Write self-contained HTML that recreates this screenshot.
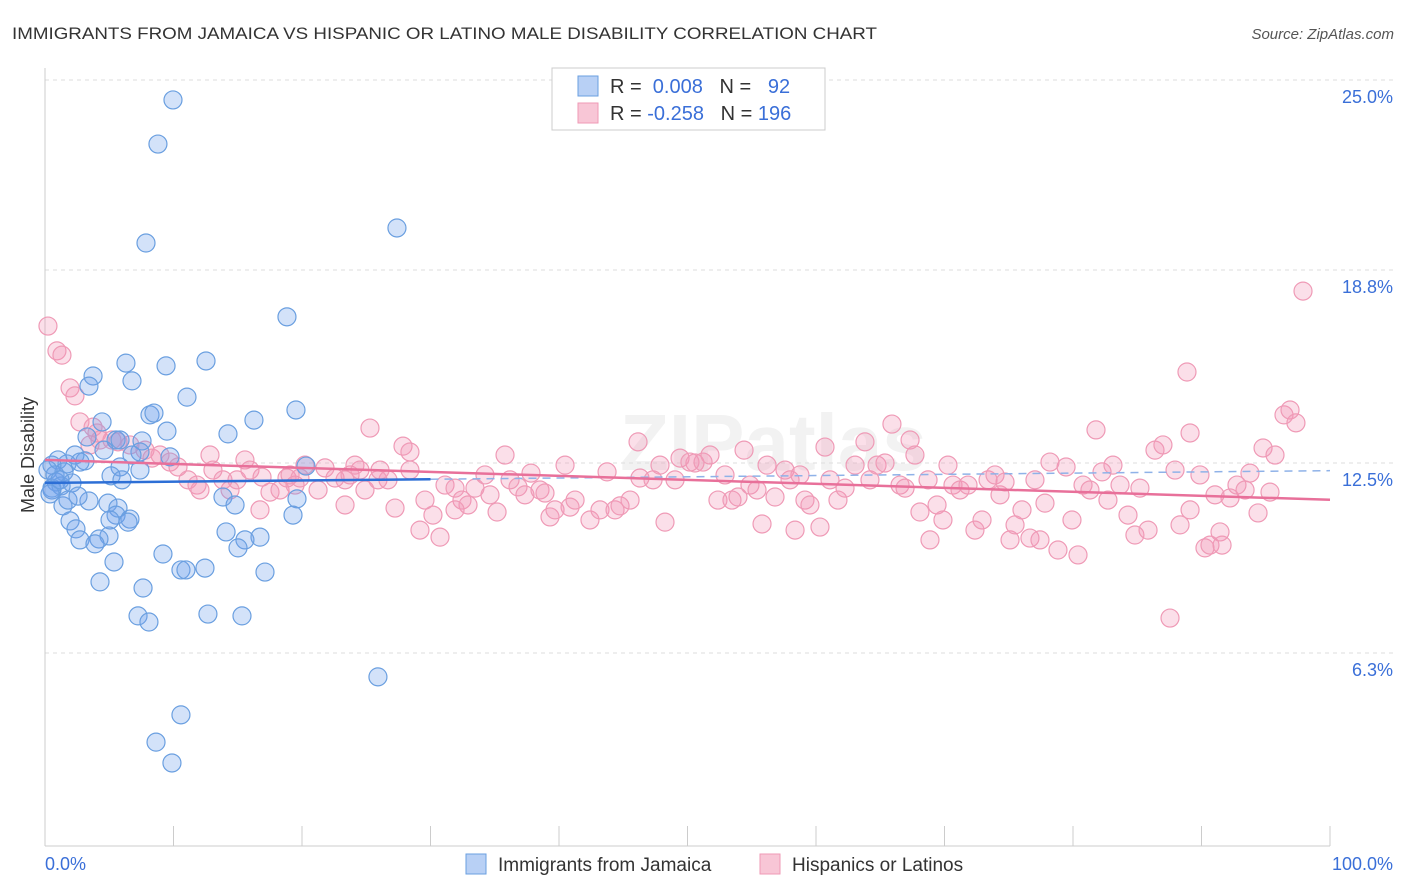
<!DOCTYPE html>
<html><head><meta charset="utf-8"><style>
body{margin:0;background:#fff;font-family:"Liberation Sans",sans-serif;}
svg{display:block}
</style></head><body>
<svg id="chart" width="1406" height="892">
<text x="12" y="39" font-size="17" fill="#333" textLength="865" lengthAdjust="spacingAndGlyphs">IMMIGRANTS FROM JAMAICA VS HISPANIC OR LATINO MALE DISABILITY CORRELATION CHART</text>
<text x="1394" y="39" font-size="15" fill="#555" font-style="italic" text-anchor="end">Source: ZipAtlas.com</text>
<text x="620" y="470" font-size="80" fill="#e6e6e6" font-weight="bold" opacity="0.5">ZIPatlas</text>
<g id="grid"></g>
<g id="axes"></g>
<g id="pts"></g>
<g id="trend"></g>
<text transform="translate(34,455) rotate(-90)" font-size="18" fill="#333" text-anchor="middle">Male Disability</text>
<g>
<rect x="552" y="68" width="273" height="62" fill="#fff" stroke="#ccc"/>
<rect x="578" y="76" width="20" height="20" fill="#b8d0f5" stroke="#6a9fe0"/>
<rect x="578" y="103" width="20" height="20" fill="#f8c6d6" stroke="#ef9ab6"/>
<text x="610" y="93" font-size="20" fill="#333">R = <tspan fill="#3a6fd8">&#160;0.008</tspan>&#160;&#160;&#160;N = <tspan fill="#3a6fd8">&#160;&#160;92</tspan></text>
<text x="610" y="120" font-size="20" fill="#333">R = <tspan fill="#3a6fd8">-0.258</tspan>&#160;&#160;&#160;N = <tspan fill="#3a6fd8">196</tspan></text>
</g>
<g>
<rect x="466" y="854" width="20" height="20" fill="#b8d0f5" stroke="#6a9fe0"/>
<text x="498" y="871" font-size="19" fill="#333">Immigrants from Jamaica</text>
<rect x="760" y="854" width="20" height="20" fill="#f8c6d6" stroke="#ef9ab6"/>
<text x="792" y="871" font-size="19" fill="#333">Hispanics or Latinos</text>
</g>
</svg>
<script>
const yTicks=[25.0,18.8,12.5,6.3];
const yTickLabels=["25.0%","18.8%","12.5%","6.3%"];
const xEnds=["0.0%","100.0%"];
const blueTrend=[11.85,12.25];
const pinkTrend=[12.6,11.3];
const bluePx=[[173,100],[158,144],[146,243],[397,228],[287,317],[206,361],[126,363],[166,366],[93,376],[132,381],[89,386],[187,397],[150,415],[154,413],[254,420],[296,410],[102,422],[167,431],[87,437],[228,434],[142,441],[116,440],[104,450],[140,452],[132,455],[170,457],[58,460],[85,461],[67,464],[120,467],[52,465],[64,472],[48,470],[306,466],[111,476],[122,480],[56,482],[72,483],[61,486],[52,488],[223,497],[235,505],[89,501],[108,503],[118,508],[63,506],[297,499],[116,515],[130,519],[70,521],[128,522],[76,529],[226,532],[260,537],[109,536],[99,539],[80,540],[245,540],[238,548],[95,544],[163,554],[114,562],[100,582],[143,588],[181,570],[186,570],[205,568],[265,572],[138,616],[149,622],[208,614],[242,616],[293,515],[378,677],[181,715],[156,742],[172,763],[52,490],[55,475],[50,494],[60,480],[75,455],[68,500],[80,462],[120,440],[140,470],[110,520],[78,496]];
const pinkPx=[[48,326],[57,351],[62,355],[70,388],[75,396],[80,422],[93,427],[97,433],[90,445],[100,440],[112,440],[118,442],[130,445],[145,450],[152,458],[160,455],[170,462],[178,467],[188,480],[197,485],[210,455],[213,470],[223,480],[237,480],[245,460],[250,470],[262,477],[270,492],[280,490],[287,478],[295,485],[305,465],[318,490],[325,468],[335,478],[345,505],[350,475],[355,465],[365,490],[370,428],[378,480],[388,480],[395,508],[403,446],[410,452],[420,530],[425,500],[433,515],[440,537],[445,485],[455,488],[462,500],[468,505],[475,488],[485,475],[490,495],[497,512],[505,455],[510,480],[518,487],[525,495],[531,473],[540,490],[545,493],[550,517],[555,510],[565,465],[570,507],[575,500],[590,520],[600,510],[607,472],[615,510],[620,506],[630,500],[638,442],[640,478],[653,480],[660,465],[665,522],[675,480],[680,458],[690,462],[695,463],[703,462],[710,455],[718,500],[725,475],[732,500],[738,497],[744,450],[750,485],[757,490],[762,524],[767,465],[775,497],[785,470],[790,480],[795,530],[800,475],[805,500],[810,505],[820,527],[825,447],[830,480],[838,500],[845,488],[855,465],[865,442],[870,480],[877,465],[885,463],[892,424],[900,485],[905,488],[910,440],[915,455],[920,512],[928,480],[930,540],[937,505],[943,520],[948,465],[953,485],[960,490],[968,485],[975,530],[982,520],[988,480],[995,475],[1000,495],[1005,482],[1010,540],[1015,525],[1022,510],[1030,538],[1035,480],[1040,540],[1045,503],[1050,462],[1058,550],[1066,467],[1072,520],[1078,555],[1083,485],[1090,490],[1096,430],[1102,472],[1108,500],[1113,465],[1120,485],[1128,515],[1135,535],[1140,488],[1148,530],[1155,450],[1163,445],[1170,618],[1180,525],[1187,372],[1190,433],[1200,475],[1205,548],[1210,545],[1215,495],[1220,532],[1222,545],[1230,498],[1237,485],[1245,490],[1250,473],[1258,513],[1263,448],[1270,492],[1275,455],[1284,415],[1290,410],[1296,423],[1303,291],[1175,470],[1190,510],[290,475],[300,478],[230,490],[260,510],[200,490],[345,480],[360,470],[380,470],[410,470],[455,510]];
const blueX=bluePx.map(p=>+((p[0]-45)/12.85).toFixed(2));
const blueY=bluePx.map(p=>+((846-p[1])/30.64).toFixed(2));
const pinkX=pinkPx.map(p=>+((p[0]-45)/12.85).toFixed(2));
const pinkY=pinkPx.map(p=>+((846-p[1])/30.64).toFixed(2));

const X=v=>45+v*12.85, Y=v=>846-v*30.64;
const NS="http://www.w3.org/2000/svg";
function mk(tag,attrs,parent){const e=document.createElementNS(NS,tag);for(const k in attrs)e.setAttribute(k,attrs[k]);document.getElementById(parent).appendChild(e);return e;}
yTicks.forEach((t,i)=>{
 const l=mk('line',{x1:45,x2:1394,y1:Y(t),y2:Y(t),stroke:'#ddd','stroke-dasharray':'4,4'},'grid');
 
 
 const tx=mk('text',{x:1393,y:Y(t)+23,'font-size':18,fill:'#3a6fd8','text-anchor':'end'},'grid');
 tx.textContent=yTickLabels[i];
 
 
});
const ax=mk('line',{x1:45,x2:45,y1:68,y2:846,stroke:'#ccc'},'axes');


const bx=mk('line',{x1:45,x2:1330,y1:846,y2:846,stroke:'#ccc'},'axes');


for(let i=1;i<=10;i++){
 const t=mk('line',{x1:X(i*10),x2:X(i*10),y1:826,y2:846,stroke:'#ccc'},'axes');
 
 
}
const xl0=mk('text',{x:45,y:870,'font-size':18,fill:'#3a6fd8'},'axes');xl0.textContent=xEnds[0];


const xl1=mk('text',{x:1393,y:870,'font-size':18,fill:'#3a6fd8','text-anchor':'end'},'axes');xl1.textContent=xEnds[1];


pinkX.forEach((x,i)=>{
 const c=mk('circle',{cx:X(x),cy:Y(pinkY[i]),r:9,fill:'rgba(242,150,182,0.3)',stroke:'#ef9ab6','stroke-width':1.2},'pts');
 
 
});
blueX.forEach((x,i)=>{
 const c=mk('circle',{cx:X(x),cy:Y(blueY[i]),r:9,fill:'rgba(110,160,235,0.3)',stroke:'#6a9fe0','stroke-width':1.2},'pts');
 
 
});
const bt=mk('line',{x1:X(0),y1:Y(blueTrend[0]),x2:X(30),y2:Y(blueTrend[0]+(blueTrend[1]-blueTrend[0])*0.3),stroke:'#2d6fd6','stroke-width':2.5},'trend');


const bd=mk('line',{x1:X(30),y1:Y(blueTrend[0]+(blueTrend[1]-blueTrend[0])*0.3),x2:X(100),y2:Y(blueTrend[1]),stroke:'#8fb2e8','stroke-width':1.5,'stroke-dasharray':'8,6'},'trend');


const pt=mk('line',{x1:X(0),y1:Y(pinkTrend[0]),x2:X(100),y2:Y(pinkTrend[1]),stroke:'#e8709a','stroke-width':2.5},'trend');


</script>
</body></html>
